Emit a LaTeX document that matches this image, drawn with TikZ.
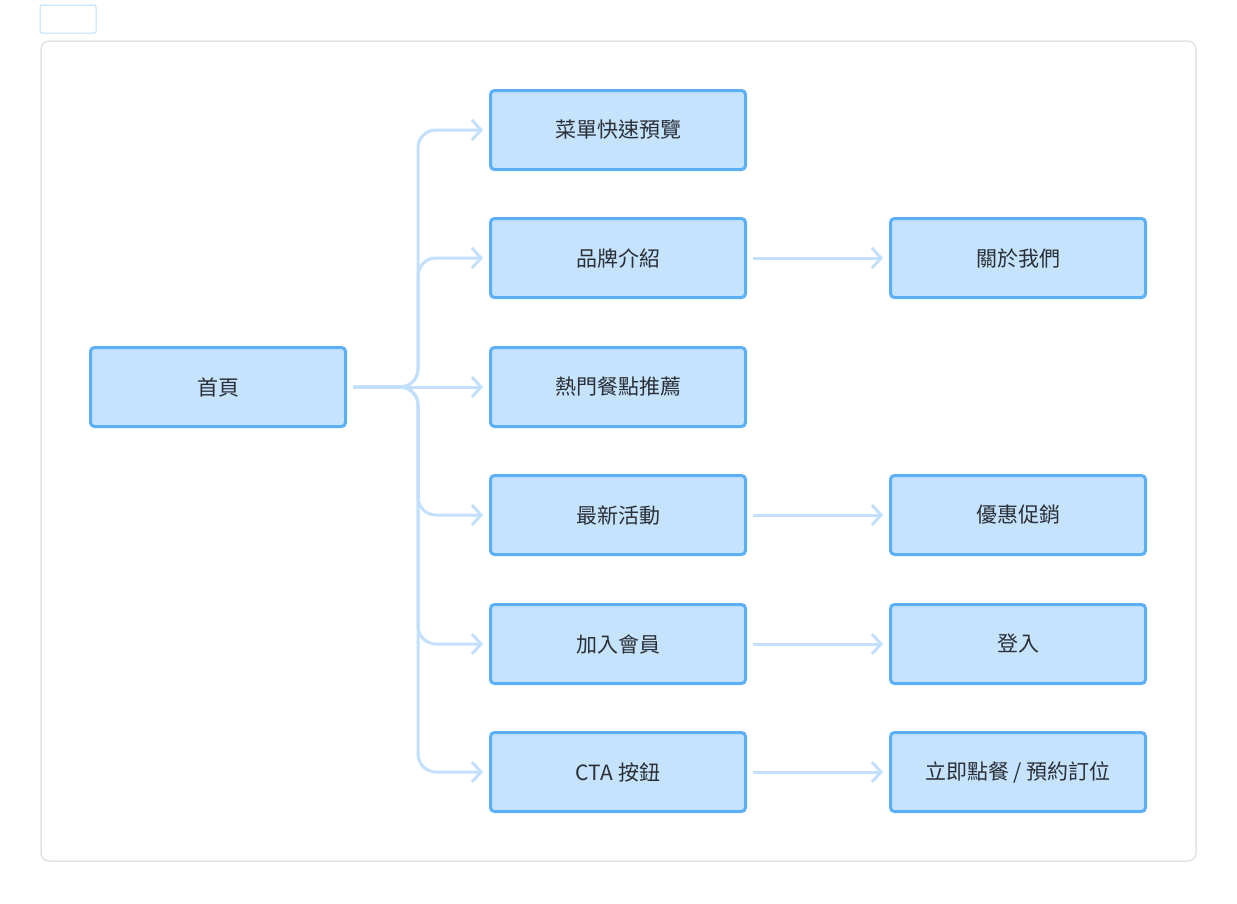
\documentclass[tikz,border=0pt]{standalone}
\usepackage{fontspec}
\setmainfont{Noto Sans CJK TC}
\usetikzlibrary{arrows.meta}
\definecolor{boxfill}{HTML}{C5E3FD}
\definecolor{boxline}{HTML}{5AAFF5}
\definecolor{linkline}{HTML}{C2DFFB}
\definecolor{framegray}{HTML}{E2E4E7}
\definecolor{textdark}{HTML}{2B2F36}
\begin{document}
\begin{tikzpicture}[x=1pt,y=-1pt,
page/.style={%
draw=boxline!40,
line width=1pt,
rounded corners=2pt
},
item/.style={%
fill=boxfill,
draw=boxline,
line width=3pt,
rounded corners=4pt,
minimum width=255pt,
minimum height=79pt,
font=\fontsize{21}{25}\selectfont,
text=textdark
},
link/.style={%
draw=linkline,
line width=3pt,
rounded corners=18pt,
shorten <=6pt,
shorten >=6pt,
-{Straight Barb[length=9pt,width=20pt]}
},
]
\useasboundingbox(0,0)rectangle(1237,903);
\draw[page](40,5)rectangle(96,33);
\draw[draw=framegray,line width=1.5pt,rounded corners=8pt](41,41)rectangle(1196,861);
%% columns
\node[item]at(218,387)(home){首頁};
\node[item]at(618,130)(menu){菜單快速預覽};
\node[item]at(618,258)(brand){品牌介紹};
\node[item]at(618,387)(hot){熱門餐點推薦};
\node[item]at(618,515)(news){最新活動};
\node[item]at(618,644)(join){加入會員};
\node[item]at(618,772)(cta){CTA 按鈕};
\node[item]at(1018,258)(about){關於我們};
\node[item]at(1018,515)(promo){優惠促銷};
\node[item]at(1018,644)(login){登入};
\node[item]at(1018,772)(order){立即點餐 / 預約訂位};
%% links
\coordinate(fork)at(418,387);
\foreach \t in {menu,brand,news,join,cta}
  \draw[link](home.east)--(fork)|-(\t.west);
\draw[link](home.east)--(hot.west);
\draw[link](brand.east)--(about.west);
\draw[link](news.east)--(promo.west);
\draw[link](join.east)--(login.west);
\draw[link](cta.east)--(order.west);
\end{tikzpicture}
\end{document}
